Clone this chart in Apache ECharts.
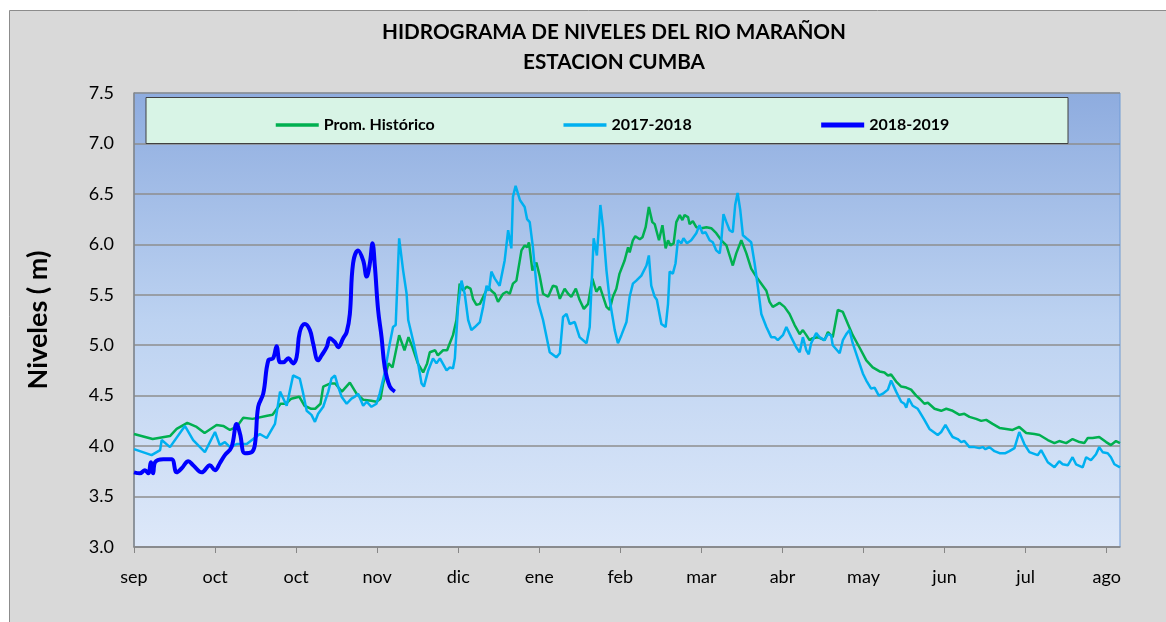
<!DOCTYPE html>
<html>
<head>
<meta charset="utf-8">
<script src="https://cdn.jsdelivr.net/npm/echarts@6/dist/echarts.min.js"></script>
<style>
  html, body { margin: 0; padding: 0; background: #fff; }
  #chart { width: 1166px; height: 622px; }
</style>
</head>
<body>
<div id="chart"></div>
<script>
// dias desde el 1 de setiembre
const monthLabels = ['sep', 'oct', 'oct', 'nov', 'dic', 'ene', 'feb', 'mar', 'abr', 'may', 'jun', 'jul', 'ago']
const seriesNames = ['Prom. Histórico', '2017-2018', '2018-2019']

const promHistorico = [
  [0, 4.12], [7, 4.07], [13.5, 4.10], [16, 4.17], [20, 4.23], [23.5, 4.19], [26.5, 4.13], [31, 4.21], [33.5, 4.20],
  [36, 4.16], [38.5, 4.19], [41, 4.28], [44.5, 4.27], [50, 4.30], [52, 4.31], [55, 4.42], [57, 4.42], [59, 4.47],
  [62, 4.49], [64, 4.40], [66.5, 4.37], [68, 4.37], [70, 4.42], [71, 4.59], [73.5, 4.62], [75.5, 4.62], [78, 4.54],
  [81, 4.63], [83.5, 4.52], [86, 4.46], [89, 4.45], [91, 4.44], [92.5, 4.47], [93.5, 4.62], [95.5, 4.82], [97, 4.78],
  [99.5, 5.10], [101.5, 4.95], [103, 5.08], [104.5, 4.98], [106.5, 4.82], [108.5, 4.73], [110, 4.82], [111, 4.93],
  [113, 4.95], [114, 4.90], [116, 4.95], [117.5, 4.95], [118.5, 5.02], [119.7, 5.10], [121, 5.25], [122.2, 5.61],
  [123.5, 5.54], [124.8, 5.58], [126.3, 5.56], [127.2, 5.46], [128.5, 5.40], [129.8, 5.41], [131.6, 5.51],
  [132.9, 5.58], [134.1, 5.54], [135.4, 5.51], [136.6, 5.43], [138.5, 5.51], [139.8, 5.53], [141, 5.51],
  [142.2, 5.61], [143.5, 5.64], [145.4, 5.94], [146.6, 5.99], [147.5, 5.97], [148.2, 6.02], [149.5, 5.74],
  [151, 5.82], [152.2, 5.69], [153.5, 5.51], [155.4, 5.48], [157.2, 5.59], [158.5, 5.58], [159.8, 5.46],
  [161.6, 5.56], [162.9, 5.51], [164.1, 5.48], [165.8, 5.56], [167.2, 5.45], [168.8, 5.36], [170.4, 5.41],
  [172, 5.66], [173.5, 5.53], [174.8, 5.58], [177.3, 5.38], [178.5, 5.35], [179.7, 5.48], [181, 5.56],
  [182.2, 5.71], [184.1, 5.84], [185.4, 5.97], [186, 5.92], [187.2, 6.04], [188.1, 6.08], [189.8, 6.05],
  [190.8, 6.07], [192, 6.17], [193.2, 6.37], [194.5, 6.22], [195.4, 6.20], [197, 6.04], [198.3, 6.19],
  [199.5, 5.96], [200.4, 6.04], [201.3, 5.99], [202.5, 6.01], [203.5, 6.22], [204.8, 6.29], [205.8, 6.24],
  [206.6, 6.29], [207.9, 6.27], [208.5, 6.20], [209.7, 6.23], [211, 6.17], [212.9, 6.16], [214.8, 6.17],
  [216.6, 6.16], [218.5, 6.11], [220.4, 6.04], [222.3, 5.99], [224.7, 5.79], [226, 5.91], [227.9, 6.04],
  [229.8, 5.91], [231.6, 5.76], [233.5, 5.68], [235.4, 5.61], [237.3, 5.54], [238.5, 5.43], [239.7, 5.38],
  [241, 5.40], [242.2, 5.42], [244.1, 5.38], [246, 5.31], [247.9, 5.20], [249.8, 5.11], [251, 5.15],
  [252.3, 5.10], [253.5, 5.05], [254.7, 5.07], [256.6, 5.08], [259.1, 5.05], [260.4, 5.13], [262.2, 5.08],
  [264.1, 5.35], [266, 5.33], [267.9, 5.21], [269.7, 5.10], [272.2, 4.98], [274.8, 4.85], [277.2, 4.78],
  [279.8, 4.74], [281.6, 4.73], [282.9, 4.70], [284.1, 4.71], [286, 4.64], [287.9, 4.59], [289.8, 4.58],
  [291.6, 4.56], [293.5, 4.50], [294.8, 4.47], [296.6, 4.42], [297.9, 4.43], [300.4, 4.37], [302.9, 4.35],
  [304.8, 4.37], [307.2, 4.35], [309.8, 4.31], [311.6, 4.32], [313.5, 4.29], [316, 4.27], [317.9, 4.25],
  [319.8, 4.26], [322.2, 4.22], [324.8, 4.18], [327.3, 4.17], [329.7, 4.16], [332.2, 4.19], [334.8, 4.13],
  [337.9, 4.12], [339.8, 4.11], [342.9, 4.06], [345.4, 4.03], [347.2, 4.05], [349.8, 4.03], [352.2, 4.07],
  [354.8, 4.04], [356.6, 4.03], [357.9, 4.08], [359.7, 4.08], [362.2, 4.09], [364.8, 4.04], [366.6, 4.01],
  [368.5, 4.05], [370, 4.03]
]

const nivel2017 = [
  [0, 3.97], [6.6, 3.91], [9.8, 3.96], [10.4, 4.06], [13.5, 3.99], [19.1, 4.20], [22.2, 4.06], [26.6, 3.94],
  [30.4, 4.14], [32.2, 4.01], [34.1, 4.04], [36, 3.99], [38.5, 4.02], [42.3, 4.02], [47.2, 4.12], [49.8, 4.08],
  [52.9, 4.22], [54.8, 4.54], [57.3, 4.40], [59.7, 4.70], [62.2, 4.67], [63.5, 4.52], [64.8, 4.35], [66.6, 4.31],
  [67.9, 4.24], [69.1, 4.32], [71, 4.39], [72.9, 4.54], [74.1, 4.67], [75.4, 4.70], [76.6, 4.59], [77.9, 4.49],
  [79.8, 4.42], [81.6, 4.47], [82.9, 4.49], [84.1, 4.52], [86, 4.40], [87.3, 4.44], [89.1, 4.39], [91, 4.42],
  [92.2, 4.52], [94.1, 4.73], [96, 5.02], [97.2, 5.18], [98.2, 5.20], [99.5, 6.06], [101, 5.74], [102.3, 5.51],
  [102.9, 5.25], [104.7, 5.05], [106.6, 4.82], [107.9, 4.62], [108.8, 4.59], [110.4, 4.75], [112.2, 4.87],
  [113.5, 4.82], [114.8, 4.87], [117.3, 4.75], [118.5, 4.78], [119.7, 4.77], [120.4, 4.87], [121.6, 5.38],
  [122.9, 5.64], [124.1, 5.51], [125.4, 5.25], [126.6, 5.15], [127.9, 5.18], [129.8, 5.23], [131, 5.38],
  [132.3, 5.59], [133.2, 5.54], [134.1, 5.73], [135.4, 5.66], [137.2, 5.59], [139.1, 5.84], [140.4, 6.14],
  [141.6, 5.96], [142.2, 6.47], [143.2, 6.58], [144.8, 6.44], [146.6, 6.37], [147.5, 6.25], [148.5, 6.22],
  [149.7, 5.97], [151.6, 5.43], [153.5, 5.25], [156, 4.93], [158.5, 4.88], [159.8, 4.92], [161, 5.28],
  [162.3, 5.31], [163.5, 5.21], [165.4, 5.23], [167.2, 5.08], [169.8, 5.02], [171, 5.18], [172.5, 6.06],
  [173.7, 5.89], [175, 6.39], [176, 6.17], [177.3, 5.74], [178.5, 5.45], [180.4, 5.15], [181.6, 5.02],
  [182.9, 5.10], [184.8, 5.23], [186, 5.48], [187.2, 5.61], [188.5, 5.64], [190.4, 5.69], [191, 5.68],
  [192.3, 5.79], [193.2, 5.89], [194.1, 5.59], [195.4, 5.48], [196.2, 5.45], [197.9, 5.21], [199.5, 5.18],
  [200.4, 5.41], [201, 5.73], [202.2, 5.71], [203.2, 5.81], [204.1, 6.04], [205.4, 6.01], [206.2, 6.06],
  [207.5, 6.01], [209.1, 6.04], [211, 6.11], [212.2, 6.19], [213.3, 6.11], [214.5, 6.12], [216, 6.04],
  [217.2, 6.02], [218.5, 5.94], [219.8, 5.91], [220.4, 6.04], [221.2, 6.30], [222.3, 6.22], [223.5, 6.14],
  [224.7, 6.12], [225.6, 6.39], [226.5, 6.51], [227.5, 6.34], [228.5, 6.09], [229.8, 6.06], [231.6, 6.02],
  [232.9, 5.81], [234.1, 5.58], [235.4, 5.31], [237.3, 5.18], [239.1, 5.08], [240.4, 5.08], [241.6, 5.05],
  [243.5, 5.10], [244.8, 5.18], [246.6, 5.08], [248.5, 4.98], [249.8, 4.93], [251, 5.08], [252.3, 4.95],
  [253.2, 4.91], [254.1, 5.02], [256, 5.12], [257.2, 5.08], [259.1, 5.05], [260.4, 5.11], [261.6, 5.10],
  [262.2, 5.00], [264.8, 4.92], [266, 5.05], [267.3, 5.11], [268.5, 5.15], [269.7, 5.02], [271.6, 4.87],
  [273.5, 4.72], [274.8, 4.65], [276.6, 4.57], [277.9, 4.58], [279.5, 4.50], [281, 4.52], [282.9, 4.56],
  [284.1, 4.65], [286, 4.54], [287.9, 4.44], [289.1, 4.42], [289.8, 4.38], [290.7, 4.47], [292.2, 4.40],
  [294.1, 4.37], [294.8, 4.34], [296.6, 4.26], [298.5, 4.17], [301.6, 4.11], [302.9, 4.14], [304.5, 4.21],
  [306, 4.14], [307.2, 4.09], [309.1, 4.07], [310.4, 4.04], [311.6, 4.05], [313.5, 3.99], [315.4, 3.99],
  [317.2, 3.98], [318.5, 3.99], [319.5, 3.97], [321, 3.99], [322.9, 3.95], [324.8, 3.93], [327, 3.93],
  [328.5, 3.95], [330.4, 3.98], [332.2, 4.14], [334.1, 4.02], [336, 3.94], [339.1, 3.91], [340.4, 3.96],
  [342.9, 3.84], [345.4, 3.79], [347.2, 3.85], [348.5, 3.82], [350.4, 3.81], [352.2, 3.89], [353.5, 3.82],
  [356, 3.79], [357.3, 3.89], [359.1, 3.86], [361, 3.92], [362.2, 3.99], [363.5, 3.94], [365.4, 3.93],
  [366.6, 3.89], [367.9, 3.82], [370, 3.79]
]

const nivel2018 = [
  [0, 3.74], [2.2, 3.73], [4.1, 3.76], [5.4, 3.73], [6.3, 3.84], [7.2, 3.73], [7.9, 3.84], [11, 3.87], [14.1, 3.87],
  [16, 3.74], [17.9, 3.78], [20.4, 3.85], [22.2, 3.81], [25.4, 3.74], [28.5, 3.81], [30.4, 3.76], [32.2, 3.83],
  [34.1, 3.91], [36.6, 3.99], [38.5, 4.22], [39.8, 4.12], [41.6, 3.93], [44.1, 3.94], [45.4, 4.02], [46.6, 4.39],
  [48.5, 4.52], [50.4, 4.85], [52.2, 4.87], [53.5, 4.99], [54.8, 4.83], [56, 4.83], [57.9, 4.87], [59.7, 4.82],
  [61, 4.88], [62.2, 5.13], [64.1, 5.21], [66, 5.15], [67.2, 5.02], [69.1, 4.85], [70.4, 4.90], [72.3, 4.98],
  [73.5, 5.07], [75.4, 5.03], [76.6, 4.98], [78.5, 5.07], [79.8, 5.13], [81, 5.31], [82.2, 5.81], [84.1, 5.94],
  [86, 5.84], [87.3, 5.68], [88.5, 5.81], [89.5, 6.01], [90.4, 5.78], [91.6, 5.35], [92.9, 5.08], [94.1, 4.78],
  [96, 4.59], [97.9, 4.54]
]

const hEcharts = echarts.init(document.getElementById('chart'))
const monthDays = 365 / 12

const option = {
  animation: false,
  textStyle: { fontFamily: 'Lato' },
  graphic: [
    {
      type: 'rect', z: -100, silent: true,
      shape: { x: 9.5, y: 10.5, width: 1170, height: 620 },
      style: { fill: '#d9d9d9', stroke: '#8c8c8c', lineWidth: 1 }
    },
    {
      type: 'rect', z: 50, silent: true,
      shape: { x: 146, y: 97.5, width: 922, height: 46 },
      style: { fill: '#d8f4e6', stroke: '#404040', lineWidth: 1 }
    },
    {
      type: 'text', z: 60, silent: true,
      style: { text: 'HIDROGRAMA DE NIVELES DEL RIO MARAÑON', x: 614, y: 32, align: 'center', verticalAlign: 'middle', font: 'bold 20.7px Lato', fill: '#000' }
    },
    {
      type: 'text', z: 60, silent: true,
      style: { text: 'ESTACION CUMBA', x: 614, y: 62, align: 'center', verticalAlign: 'middle', font: 'bold 20.7px Lato', fill: '#000' }
    }
  ],
  legend: {
    z: 60,
    left: 269,
    top: 112,
    itemWidth: 43,
    itemHeight: 16,
    itemGap: 127,
    itemStyle: { opacity: 0 },
    data: [
      { name: seriesNames[0], lineStyle: { width: 3.5 } },
      { name: seriesNames[1], lineStyle: { width: 3.5 } },
      { name: seriesNames[2], lineStyle: { width: 5 } }
    ],
    textStyle: { fontFamily: 'Lato', fontWeight: 'bold', fontSize: 16, color: '#000' }
  },
  grid: {
    left: 134, top: 93, width: 986, height: 454,
    show: true,
    borderColor: '#6f9bd6',
    borderWidth: 1,
    backgroundColor: new echarts.graphic.LinearGradient(0, 0, 0, 1, [
      { offset: 0, color: '#8eacdf' },
      { offset: 0.5, color: '#bcd2f1' },
      { offset: 1, color: '#dde8f9' }
    ])
  },
  xAxis: {
    type: 'value',
    min: 0,
    max: 370,
    interval: monthDays,
    axisLine: { show: true, lineStyle: { color: '#868686', width: 1.5 } },
    axisTick: { show: true, length: 6, lineStyle: { color: '#868686' } },
    splitLine: { show: false },
    axisLabel: {
      margin: 21,
      fontSize: 18,
      fontFamily: 'Lato',
      color: '#000',
      showMaxLabel: false,
      formatter: v => {
        const i = Math.round(v / monthDays)
        return Math.abs(v - i * monthDays) < 0.5 && monthLabels[i] ? monthLabels[i] : ''
      }
    }
  },
  yAxis: {
    type: 'value',
    min: 3,
    max: 7.5,
    interval: 0.5,
    name: 'Niveles ( m)',
    nameLocation: 'middle',
    nameGap: 82,
    nameTextStyle: { fontFamily: 'Lato', fontWeight: 'bold', fontSize: 27, color: '#000' },
    axisLine: { show: true, lineStyle: { color: '#868686', width: 1.5 } },
    axisTick: { show: false },
    splitLine: { lineStyle: { color: '#8e8e8e', width: 1.5 } },
    axisLabel: {
      margin: 20,
      fontSize: 18,
      fontFamily: 'Lato',
      color: '#000',
      formatter: v => v.toFixed(1)
    }
  },
  series: [
    {
      name: seriesNames[0],
      type: 'line',
      symbol: 'none',
      color: '#00b050',
      lineStyle: { width: 2.5, color: '#00b050' },
      data: promHistorico
    },
    {
      name: seriesNames[1],
      type: 'line',
      symbol: 'none',
      color: '#00b0f0',
      lineStyle: { width: 2.5, color: '#00b0f0' },
      data: nivel2017
    },
    {
      name: seriesNames[2],
      type: 'line',
      symbol: 'none',
      smooth: 0.4,
      color: '#0000ff',
      lineStyle: { width: 4, color: '#0000ff' },
      data: nivel2018
    }
  ]
}

hEcharts.setOption(option)
</script>
</body>
</html>
